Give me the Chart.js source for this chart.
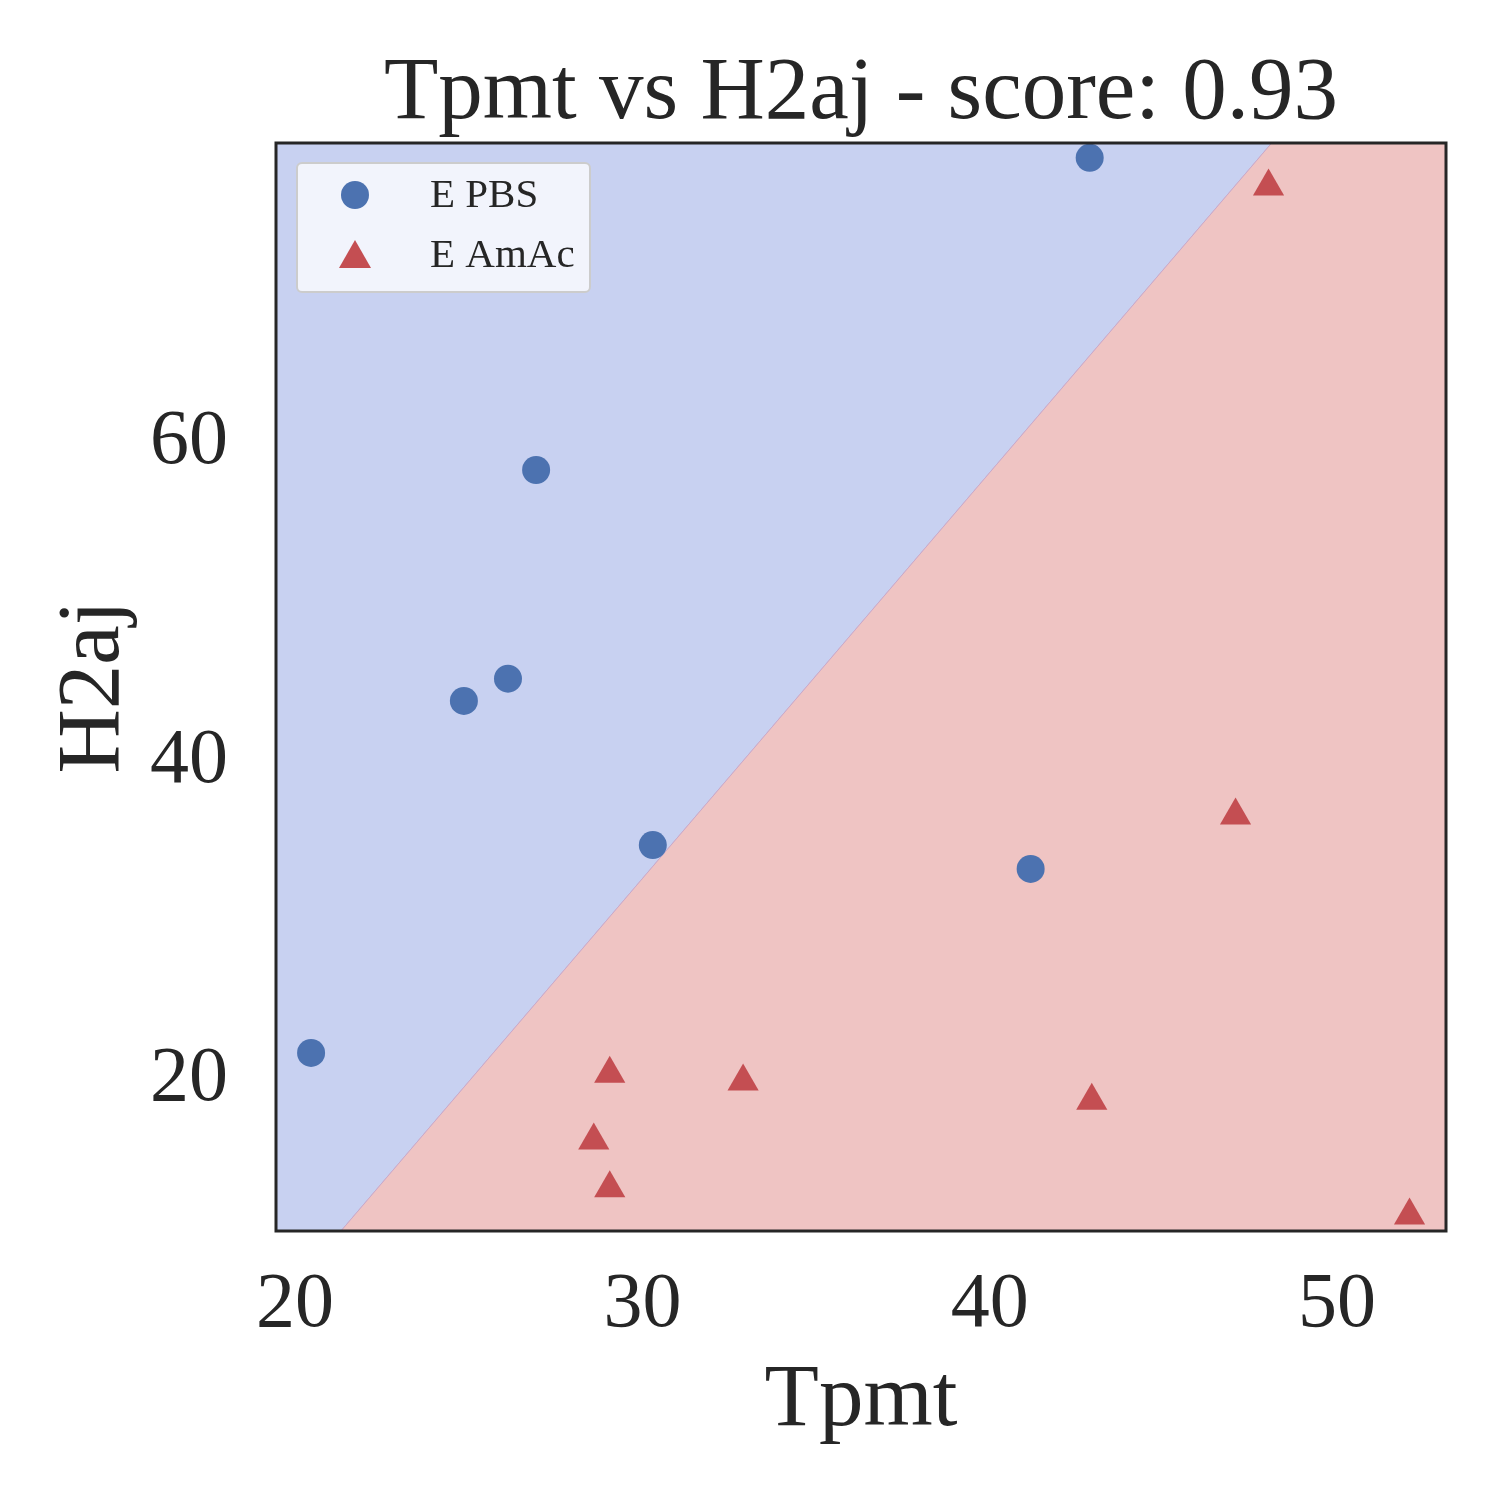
<!DOCTYPE html>
<html>
<head>
<script src="https://cdn.jsdelivr.net/npm/chart.js@4.4.0/dist/chart.umd.min.js"></script>
<style>body{margin:0;background:#fff}</style>
</head>
<body>
<canvas id="grafico" width="1500" height="1500"></canvas>
<script>
// dados
const pbsX = [20.46, 24.86, 26.13, 26.94, 30.3, 41.18, 42.88];
const pbsY = [21.7, 43.8, 45.2, 58.3, 34.75, 33.25, 77.9];
const amacX = [29.06, 32.9, 28.6, 29.06, 42.94, 47.08, 48.03, 52.09];
const amacY = [20.4, 19.9, 16.2, 13.2, 18.7, 36.6, 76.1, 11.5];
const limiteX = [21.32, 48.12];
const xTicks = [20, 30, 40, 50];
const yTicks = [20, 40, 60];
const xMin = 19.45, xMax = 53.14, yMin = 10.52, yMax = 78.83;

const fonte = "'Liberation Serif', 'DejaVu Serif', serif";
const pts = (xs, ys) => xs.map((x, i) => ({x: x, y: ys[i]}));

const molduraPlugin = {
    id: 'moldura',
    afterDraw(chart) {
        const ctx = chart.ctx, a = chart.chartArea;
        ctx.save();
        ctx.strokeStyle = '#262626';
        ctx.lineWidth = 3;
        ctx.strokeRect(a.left, a.top, a.right - a.left, a.bottom - a.top);
        ctx.fillStyle = '#262626';
        ctx.font = '89px ' + fonte;
        ctx.textAlign = 'center';
        ctx.textBaseline = 'alphabetic';
        ctx.fillText('Tpmt vs H2aj - score: 0.93', (a.left + a.right) / 2, 118);
        // titulos dos eixos
        ctx.fillText('Tpmt', (a.left + a.right) / 2, 1425);
        ctx.save();
        ctx.translate(118, (a.top + a.bottom) / 2);
        ctx.rotate(-Math.PI / 2);
        ctx.fillText('H2aj', 0, 0);
        ctx.restore();
        // legenda
        ctx.fillStyle = 'rgba(244,245,252,0.95)';
        ctx.strokeStyle = '#cccccc';
        ctx.lineWidth = 2;
        ctx.beginPath();
        ctx.roundRect(297, 163, 293, 129, 5);
        ctx.fill(); ctx.stroke();
        ctx.fillStyle = '#4c72b0';
        ctx.beginPath(); ctx.arc(355, 195, 14, 0, Math.PI * 2); ctx.fill();
        ctx.fillStyle = '#c44e52';
        ctx.beginPath(); ctx.moveTo(355, 240); ctx.lineTo(371, 268); ctx.lineTo(339, 268); ctx.closePath(); ctx.fill();
        ctx.fillStyle = '#262626';
        ctx.font = '41px ' + fonte;
        ctx.textAlign = 'left';
        ctx.textBaseline = 'middle';
        ctx.fillText('E PBS', 430, 196);
        ctx.fillText('E AmAc', 430, 256);
        ctx.restore();
    }
};

new Chart(document.getElementById('grafico').getContext('2d'), {
    type: 'scatter',
    data: {
        datasets: [
            {data: pts(pbsX, pbsY), backgroundColor: '#4c72b0', borderWidth: 0, pointRadius: 14, pointStyle: 'circle', order: 1},
            {data: pts(amacX, amacY), backgroundColor: '#c44e52', borderWidth: 0, pointRadius: 18, pointStyle: 'triangle', order: 1},
            {type: 'line', data: [{x: xMin, y: yMin}, {x: limiteX[0], y: yMin}, {x: limiteX[1], y: yMax}],
             fill: 'end', backgroundColor: '#c8d1f1', borderColor: '#c9a9c9', borderWidth: 1, pointRadius: 0, order: 3},
            {type: 'line', data: [{x: limiteX[0], y: yMin}, {x: limiteX[1], y: yMax}, {x: xMax, y: yMax}],
             fill: 'start', backgroundColor: '#efc4c3', borderColor: '#c9a9c9', borderWidth: 1, pointRadius: 0, order: 2}
        ]
    },
    options: {
        responsive: false,
        animation: false,
        devicePixelRatio: 1,
        layout: {padding: {top: 143, right: 54, left: 0, bottom: 0}},
        plugins: {legend: {display: false}, tooltip: {enabled: false}},
        scales: {
            x: {
                type: 'linear', min: xMin, max: xMax,
                grid: {display: false}, border: {display: false},
                afterBuildTicks: s => { s.ticks = xTicks.map(v => ({value: v})); },
                afterFit: s => { s.height = 269; },
                ticks: {color: '#262626', font: {family: fonte, size: 78}, padding: 20}
            },
            y: {
                type: 'linear', min: yMin, max: yMax,
                grid: {display: false}, border: {display: false},
                afterBuildTicks: s => { s.ticks = yTicks.map(v => ({value: v})); },
                afterFit: s => { s.width = 276; },
                ticks: {color: '#262626', font: {family: fonte, size: 78}, padding: 40}
            }
        }
    },
    plugins: [molduraPlugin]
});
</script>
</body>
</html>
